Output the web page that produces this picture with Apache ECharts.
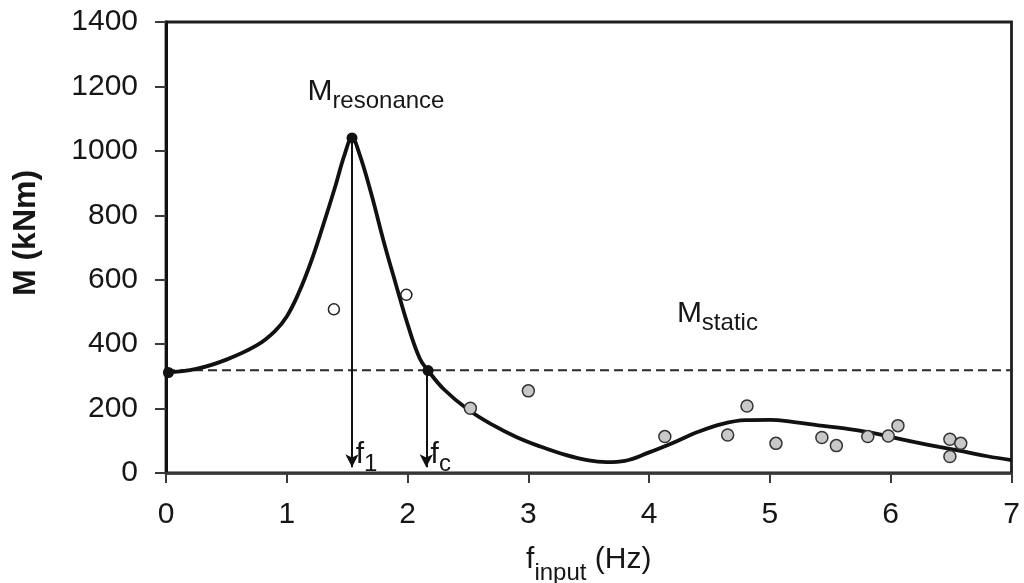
<!DOCTYPE html>
<html>
<head>
<meta charset="utf-8">
<script src="https://cdn.jsdelivr.net/npm/echarts@6/dist/echarts.min.js"></script>
<style>
  html, body { margin: 0; padding: 0; background: #fff; }
  #chart { width: 1024px; height: 583px; }
</style>
</head>
<body>
<div id="chart"></div>
<script>
// Bending moment response vs. input frequency
const FONT = '"Liberation Sans", Arial, Helvetica, sans-serif';

// Fitted response curve
const curveF = [0, 0.25, 0.5, 0.75, 0.9, 1.0, 1.1, 1.2, 1.3, 1.4, 1.48, 1.54, 1.6, 1.7, 1.8, 1.9, 2.0, 2.1, 2.17, 2.3, 2.5, 2.7, 2.9, 3.1, 3.3, 3.5, 3.65, 3.8, 4.0, 4.2, 4.4, 4.6, 4.8, 5.0, 5.2, 5.4, 5.6, 5.8, 6.0, 6.2, 6.4, 6.6, 6.8, 7.0];
const curveM = [312, 323, 352, 396, 440, 486, 560, 655, 768, 888, 990, 1040, 992, 866, 722, 590, 462, 356, 318, 260, 197, 150, 112, 82, 57, 39, 34, 38, 64, 94, 127, 152, 164, 165, 158, 148, 139, 128, 112, 96, 81, 67, 52, 40];

// Measured points (open markers)
const openF = [1.39, 1.99];
const openM = [508, 553];

// Measured points (grey markers)
const grayF = [2.52, 3.0, 4.13, 4.65, 4.81, 5.05, 5.43, 5.55, 5.81, 5.98, 6.06, 6.49, 6.58, 6.49];
const grayM = [201, 255, 113, 118, 208, 92, 110, 85, 113, 115, 147, 105, 92, 51];

// Key points: static moment at f = 0, resonance peak, crossing frequency
const keyF = [0.02, 1.54, 2.17];
const keyM = [312, 1040, 318];

// Static moment level and the marked frequencies
const staticM = 319;
const f1 = 1.54;
const fc = 2.155;

// Tick labels
const xTicks = ['0', '1', '2', '3', '4', '5', '6', '7'];
const yTicks = ['0', '200', '400', '600', '800', '1000', '1200', '1400'];

const pairs = (xs, ys) => xs.map((x, i) => [x, ys[i]]);

const TXT = '#161616';
const rich = (mainPad) => ({
  m: { fontFamily: FONT, fontSize: 30, color: TXT, verticalAlign: 'bottom', lineHeight: 30, padding: [0, 0, mainPad, 0] },
  s: { fontFamily: FONT, fontSize: 24, color: TXT, verticalAlign: 'bottom', lineHeight: 24 }
});

const chart = echarts.init(document.getElementById('chart'), null, { renderer: 'canvas' });

chart.setOption({
  animation: false,
  backgroundColor: '#fff',
  grid: {
    left: 166, top: 22, right: 12.5, bottom: 110,
    show: true, borderColor: '#1e1e1e', borderWidth: 2.8,
    containLabel: false, outerBoundsMode: 'none'
  },
  xAxis: {
    type: 'value', min: 0, max: 7, interval: 1,
    name: '{m|f}{s|input}{m| (Hz)}',
    nameLocation: 'middle', nameGap: 82, nameMoveOverlap: false,
    nameTextStyle: { rich: rich(10) },
    axisLine: { show: true, onZero: false, lineStyle: { color: '#3a3a3a', width: 2.5 } },
    axisTick: { show: true, inside: false, length: 10, lineStyle: { color: '#3a3a3a', width: 2 } },
    axisLabel: {
      margin: 27, fontFamily: FONT, fontSize: 30, color: TXT,
      formatter: (v) => xTicks[Math.round(v)]
    },
    splitLine: { show: false }
  },
  yAxis: {
    type: 'value', min: 0, max: 1400, interval: 200,
    name: 'M (kNm)',
    nameLocation: 'middle', nameGap: 124, nameMoveOverlap: false,
    nameTextStyle: { fontFamily: FONT, fontSize: 32, fontWeight: 'bold', color: TXT, padding: [0, 0, 0, 29] },
    axisLine: { show: true, onZero: false, lineStyle: { color: '#111', width: 3 } },
    axisTick: { show: true, inside: false, length: 11, lineStyle: { color: '#3a3a3a', width: 2 } },
    axisLabel: {
      margin: 28, fontFamily: FONT, fontSize: 30, color: TXT,
      formatter: (v) => yTicks[Math.round(v / 200)]
    },
    splitLine: { show: false }
  },
  series: [
    {
      // static moment reference line, running slightly past the right frame
      name: 'M static',
      type: 'line',
      data: [[0, staticM], [7.07, staticM]],
      clip: false,
      symbol: 'none',
      lineStyle: { color: '#2a2a2a', width: 2, type: [9, 5] },
      z: 2
    },
    {
      name: 'response',
      type: 'line',
      data: pairs(curveF, curveM),
      smooth: 0.4,
      symbol: 'none',
      lineStyle: { color: '#111', width: 3.8 },
      z: 3,
      markLine: {
        silent: true,
        symbol: ['none', 'arrow'],
        symbolSize: [10, 13],
        label: { show: false },
        lineStyle: { type: 'solid', color: '#111', width: 2 },
        data: [
          [{ coord: [f1, keyM[1]] }, { coord: [f1, 18] }],
          [{ coord: [fc, staticM] }, { coord: [fc, 18] }]
        ]
      }
    },
    {
      name: 'open',
      type: 'scatter',
      data: pairs(openF, openM),
      symbol: 'circle', symbolSize: 11,
      itemStyle: { color: '#fff', borderColor: '#222', borderWidth: 1.5, opacity: 1 },
      z: 4
    },
    {
      name: 'grey',
      type: 'scatter',
      data: pairs(grayF, grayM),
      symbol: 'circle', symbolSize: 12,
      itemStyle: { color: '#c8c8c8', borderColor: '#333', borderWidth: 1.5, opacity: 1 },
      z: 4
    },
    {
      name: 'key',
      type: 'scatter',
      data: pairs(keyF, keyM),
      symbol: 'circle', symbolSize: 11,
      clip: false,
      itemStyle: { color: '#111', opacity: 1 },
      z: 5
    },
    {
      // text annotations anchored in data space
      name: 'notes',
      type: 'scatter',
      symbol: 'circle', symbolSize: 1,
      itemStyle: { color: 'rgba(0,0,0,0)', opacity: 1 },
      silent: true,
      z: 6,
      label: {
        show: true, position: 'inside', opacity: 1,
        formatter: (p) => p.data.text,
        rich: rich(7)
      },
      data: [
        { value: [1.738, 1162], text: '{m|M}{s|resonance}' },
        { value: [4.565, 473], text: '{m|M}{s|static}' },
        { value: [f1 + 0.12, 36], text: '{m|f}{s|1}' },
        { value: [fc + 0.12, 36], text: '{m|f}{s|c}' }
      ]
    }
  ]
});
</script>
</body>
</html>
